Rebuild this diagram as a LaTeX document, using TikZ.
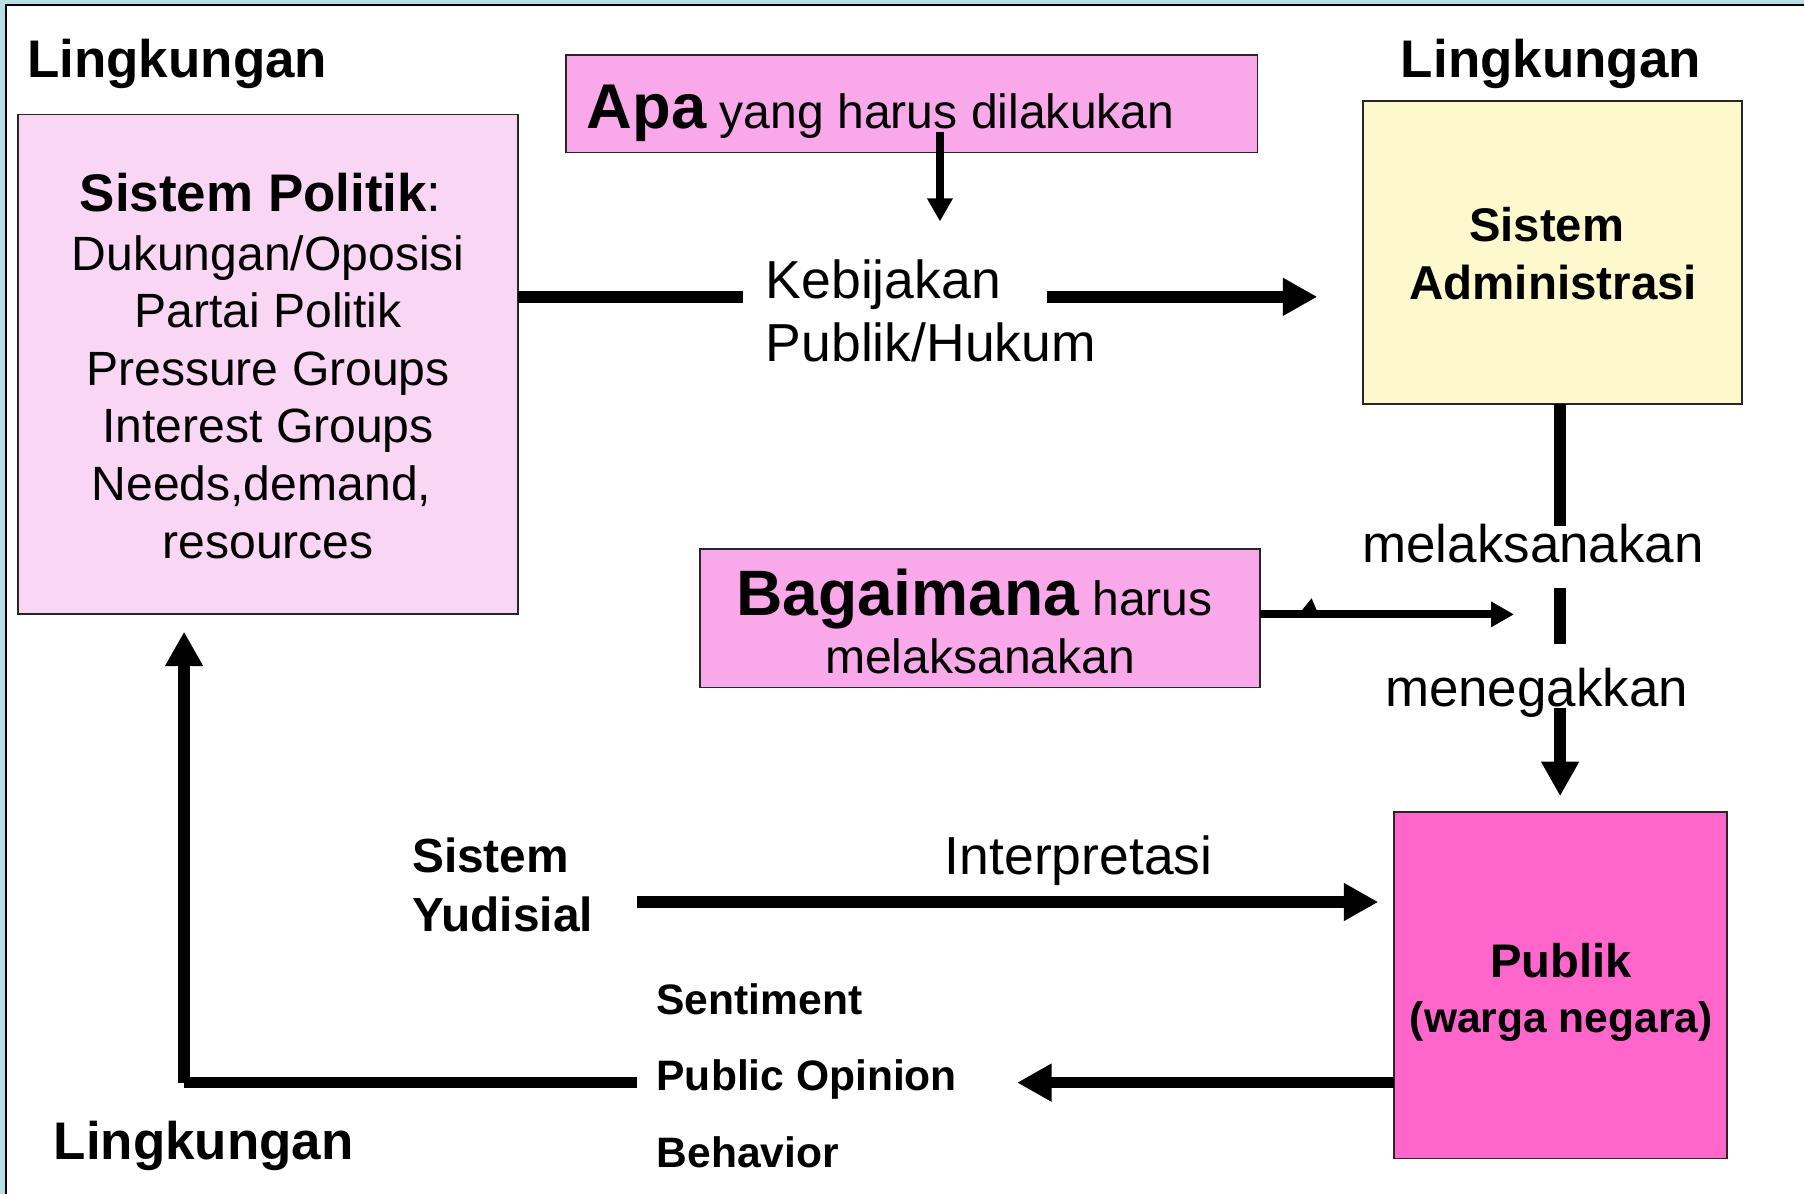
\documentclass[tikz,border=0pt]{standalone}
\usepackage{fontspec}
\setmainfont{Liberation Sans}
\usetikzlibrary{arrows.meta}
\definecolor{bandblue}{RGB}{184,223,227}
\definecolor{lightpink}{RGB}{250,214,245}
\definecolor{midpink}{RGB}{249,168,234}
\definecolor{lightyellow}{RGB}{253,249,204}
\definecolor{hotpink}{RGB}{255,102,204}
\newcommand{\fsz}[1]{\fontsize{#1}{#1}\selectfont}
\begin{document}
\begin{tikzpicture}[x=1pt,y=-1pt,
  box/.style={draw=black!85, line width=1.6pt, inner sep=0pt, outer sep=0pt},
  txt/.style={inner sep=0pt, anchor=base},
  ltxt/.style={inner sep=0pt, anchor=base west},
  bigline/.style={line width=10pt},
  bigarrow/.style={line width=10pt, -{Triangle[length=30pt,width=31pt]}},
  thinarrow/.style={line width=7pt, -{Triangle[length=20pt,width=21pt]}},
]
\useasboundingbox (0,0) rectangle (1568,1037.8);
% frame
\fill[bandblue] (0,0) rectangle (1568,1037.8);
\fill[white] (5.4,4.4) rectangle (1568,1037.8);
\draw[line width=2.2pt] (5.4,1037.8) -- (5.4,4.4) -- (1568,4.4);

% boxes
\node[box, fill=lightpink, minimum width=434pt, minimum height=434pt] (pol) at (233,316.5) {};
\node[box, fill=midpink, minimum width=601pt, minimum height=84.5pt] (apa) at (792.5,90.25) {};
\node[box, fill=lightyellow, minimum width=329pt, minimum height=263pt] (adm) at (1349.5,219.5) {};
\node[box, fill=midpink, minimum width=486.4pt, minimum height=120.5pt] (bag) at (851.8,537.25) {};
\node[box, fill=hotpink, minimum width=289.5pt, minimum height=301pt] (pub) at (1356.25,856.5) {};

% Lingkungan labels
\node[ltxt, font=\fsz{46}\bfseries] (ling1) at (23.5,67) {Lingkungan};
\node[txt, font=\fsz{46}\bfseries] (ling2) at (1348,67) {Lingkungan};
\node[txt, font=\fsz{46}\bfseries] (ling3) at (177,1008) {Lingkungan};

% Sistem Politik text
\node[txt] (pol0) at (233,184) {\fsz{46}{\bfseries Sistem Politik}:\kern12.8pt};
\node[txt, font=\fsz{41.8}] (pol1) at (233,235) {Dukungan/Oposisi};
\node[txt, font=\fsz{41.8}] (pol2) at (233,285) {Partai Politik};
\node[txt, font=\fsz{41.8}] (pol3) at (233,335) {Pressure Groups};
\node[txt, font=\fsz{41.8}] (pol4) at (233,385) {Interest Groups};
\node[txt, font=\fsz{41.8}] (pol5) at (233,435) {Needs,demand,\kern11.6pt};
\node[txt, font=\fsz{41.8}] (pol6) at (233,485) {resources};

% Apa text
\node[ltxt] (apat) at (510,112) {\fsz{41.8}{\fsz{55}\bfseries Apa} yang harus dilakukan};

% Kebijakan
\node[ltxt, font=\fsz{46.5}] (keb1) at (665.5,259.5) {Kebijakan};
\node[ltxt, font=\fsz{46.5}] (keb2) at (665.5,314) {Publik/Hukum};

% Administrasi
\node[txt, font=\fsz{41}\bfseries] (adm1) at (1350,210) {Sistem\kern11.4pt};
\node[txt, font=\fsz{41.3}\bfseries] (adm2) at (1350,260) {Administrasi};

% melaksanakan / menegakkan
\node[txt, font=\fsz{46}] (mel) at (1332.5,489) {melaksanakan};
\node[txt, font=\fsz{46}] (men) at (1335.5,614) {menegakkan};

% Bagaimana
\node[ltxt] (bag1) at (640,535) {\fsz{41.8}{\fsz{55.8}\bfseries Bagaimana} harus};
\node[txt, font=\fsz{41.8}] (bag2) at (852,585) {melaksanakan};

% Publik
\node[txt, font=\fsz{41}\bfseries] (pub1) at (1357,850) {Publik};
\node[txt, font=\fsz{37}\bfseries] (pub2) at (1357,897) {(warga negara)};

% Yudisial
\node[ltxt, font=\fsz{41.6}\bfseries] (yud1) at (358,758) {Sistem};
\node[ltxt, font=\fsz{41.6}\bfseries] (yud2) at (358,810) {Yudisial};
\node[ltxt, font=\fsz{46.5}] (interp) at (821,760) {Interpretasi};

% Sentiment etc
\node[ltxt, font=\fsz{37}\bfseries] (sen) at (570.5,882) {Sentiment};
\node[ltxt, font=\fsz{37}\bfseries] (pop) at (570.5,948) {Public Opinion};
\node[ltxt, font=\fsz{37}\bfseries] (beh) at (570.5,1015) {Behavior};

% coordinates
\coordinate (kL) at (646,258);
\coordinate (kR) at (910,258);
\coordinate (kT) at (1145,258);
\coordinate (a1) at (817,114.5);
\coordinate (a2) at (817,192.5);
\coordinate (v1) at (1356,457);
\coordinate (v2) at (1356,511);
\coordinate (v3) at (1356,560);
\coordinate (v4) at (1356,615);
\coordinate (v5) at (1356,692);
\coordinate (b2) at (1316,534);
\coordinate (i1) at (554,784);
\coordinate (i2) at (1198,784);
\coordinate (p2) at (884,941);
\coordinate (f1) at (554,941);
\coordinate (f2) at (160,941);
\coordinate (f3) at (160,549);

% connectors
\draw[bigline] (pol.east |- kL) -- (kL);
\draw[bigarrow] (kR) -- (kT);
\draw[thinarrow] (a1) -- (a2);
\draw[bigline] (adm.south -| v1) -- (v1);
\draw[bigline] (v2) -- (v3);
\draw[bigarrow] (v4) -- (v5);
\draw[thinarrow] (bag.east |- b2) -- (b2);
\fill (1131.5,530.5) -- (1144.5,530.5) -- (1140,520) -- cycle;
\draw[bigarrow] (i1) -- (i2);
\draw[bigarrow] (pub.west |- p2) -- (p2);
\draw[bigline] (f1) -- (f2);
\draw[bigarrow] (f2) -- (f3);
\end{tikzpicture}
\end{document}
